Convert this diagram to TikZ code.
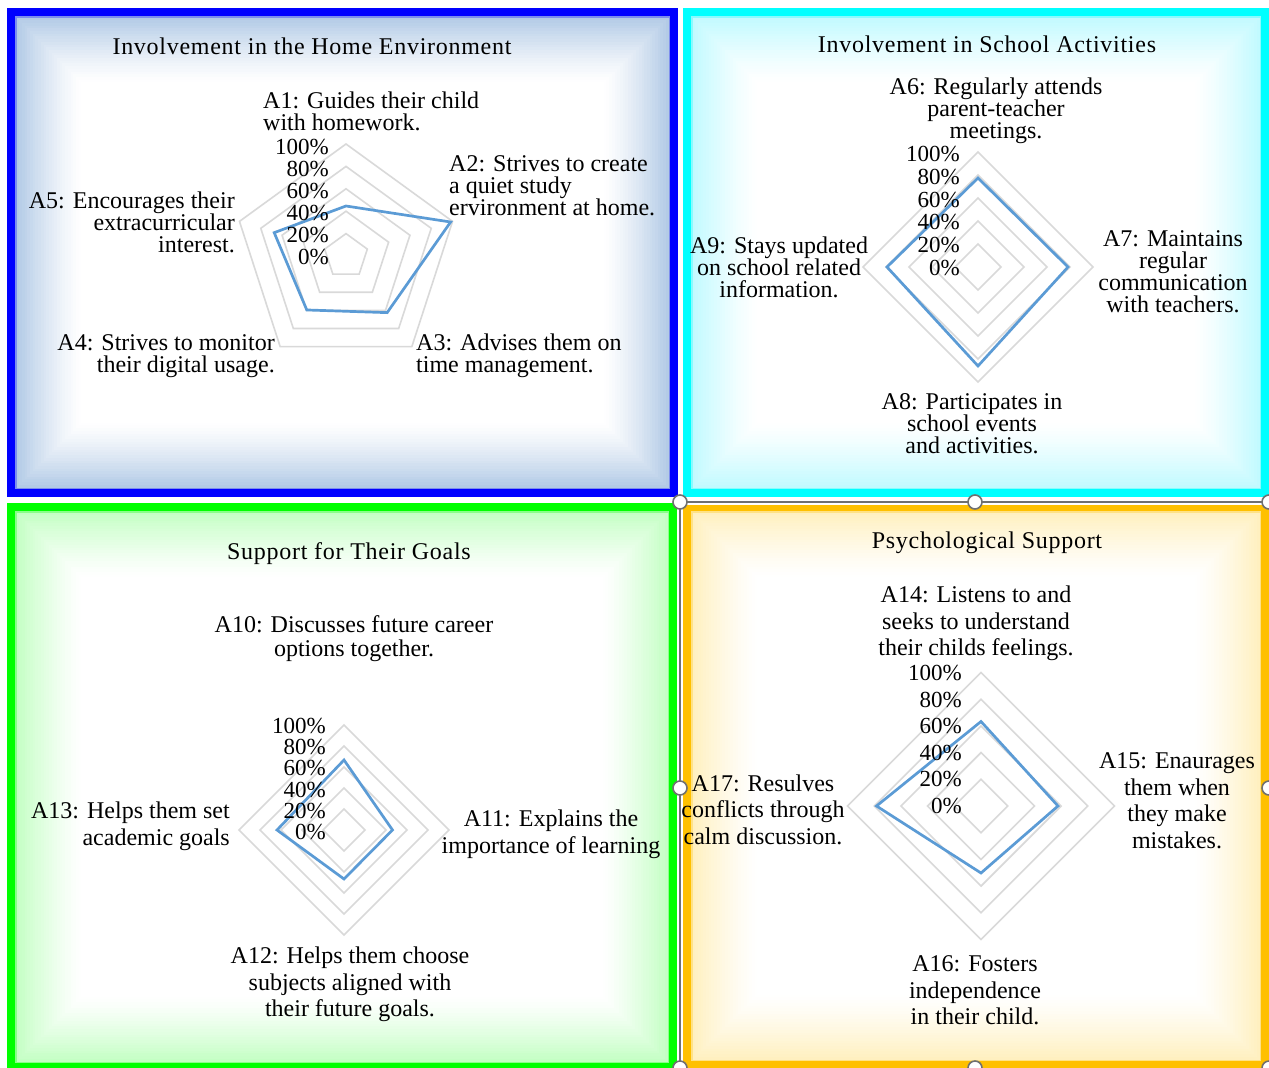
\documentclass[tikz,border=0pt]{standalone}
\usepackage{fontspec}
\setmainfont{Liberation Serif}
\newfontfamily\titlefont[LetterSpace=3]{Liberation Serif}
\definecolor{dataBlue}{HTML}{5B9BD5}
\definecolor{ringGray}{HTML}{D9D9D9}
\definecolor{tlBorder}{HTML}{0000FF}
\definecolor{tlTint}{HTML}{B3CBE6}
\definecolor{trBorder}{HTML}{00FFFF}
\definecolor{trTint}{HTML}{C2FAFF}
\definecolor{blBorder}{HTML}{00FF00}
\definecolor{blTint}{HTML}{C4FFC4}
\definecolor{brBorder}{HTML}{FFC000}
\definecolor{brTint}{HTML}{FFF0C0}
\definecolor{selGray}{HTML}{707070}
\newcommand\bevelpanel[6]{%
  \fill[#5] (#1,#2) rectangle (#3,#4);
  \fill[#5!30!#6] ({#1+8},{#2+8}) rectangle ({#3-8},{#4-8});
  \foreach \i in {0,...,24}{%
    \pgfmathtruncatemacro\tnt{100*(1-\i/24)^1.3}%
    \fill[#6!\tnt!white] ({#1+9.5+2.7*\i},{#2+9.5+2.7*\i}) rectangle ({#3-9.5-2.7*\i},{#4-9.5-2.7*\i});
  }%
}
\tikzset{
  ring/.style={draw=ringGray, line width=1.6pt},
  dataline/.style={draw=dataBlue, line width=2.7pt, line join=miter},
  lbl/.style={font=\fontsize{24}{22}\selectfont, align=center, inner sep=0pt},
  lblb/.style={font=\fontsize{24}{26.5}\selectfont, align=center, inner sep=0pt},
  pct/.style={font=\fontsize{23}{23}\selectfont, inner sep=0pt, anchor=east},
  ttl/.style={font=\fontsize{24}{24}\titlefont, inner sep=0pt},
  selhandle/.style={circle, draw=selGray, fill=white, line width=1.6pt, minimum size=14pt, inner sep=0pt},
}
\begin{document}
\lineskiplimit=-20pt\relax
\begin{tikzpicture}[x=1pt,y=-1pt]
\useasboundingbox (0,0) rectangle (1269,1068);
\fill[white] (0,0) rectangle (1269,1068);
% panels
\bevelpanel{7}{8}{678}{497}{tlBorder}{tlTint}
\bevelpanel{683}{8}{1269}{497}{trBorder}{trTint}
\bevelpanel{7}{503}{677}{1071}{blBorder}{blTint}
\bevelpanel{683}{503}{1269}{1069}{brBorder}{brTint}
% selection frame
\draw[white, line width=5pt] (680,502) -- (1269,502) (680,502) -- (680,1068);
\draw[selGray, line width=1.8pt] (680,502) -- (1269,502) (680,502) -- (680,1068);

% ---------- Chart 1 ----------
\node[ttl] (t1) at (312,46) {Involvement in the Home Environment};
\begin{scope}[shift={(346,256)}, yscale=-1]
  \foreach \k in {1,...,5}
    \draw[ring] (90:{\k*22.4}) -- (18:{\k*22.4}) -- (-54:{\k*22.4}) -- (-126:{\k*22.4}) -- (162:{\k*22.4}) -- cycle;
  \draw[dataline] (90:50) -- (18:110) -- (-54:70) -- (-126:66.7) -- (162:75.5) -- cycle;
\end{scope}
\foreach \k/\t in {0/0,1/20,2/40,3/60,4/80,5/100}
  \node[pct] (p1\k) at (329,{257-22*\k}) {\t\%};
\node[lbl, anchor=west, align=left] (a1) at (263,111) {A1: Guides their child\\with homework.};
\node[lbl, anchor=west, align=left] (a2) at (449,186) {A2: Strives to create\\a quiet study\\ervironment at home.};
\node[lbl, anchor=west, align=left] (a3) at (416,356) {A3: Advises them on\\time management.};
\node[lbl, anchor=east, align=right] (a4) at (275,356) {A4: Strives to monitor\\their digital usage.};
\node[lbl, anchor=east, align=right] (a5) at (235,222) {A5: Encourages their\\extracurricular\\interest.};

% ---------- Chart 2 ----------
\node[ttl] (t2) at (987,44) {Involvement in School Activities};
\begin{scope}[shift={(978,267)}, yscale=-1]
  \foreach \k in {1,...,5}
    \draw[ring] (90:{\k*23}) -- (0:{\k*23}) -- (-90:{\k*23}) -- (180:{\k*23}) -- cycle;
  \draw[dataline] (90:89) -- (0:90) -- (-90:99) -- (180:91) -- cycle;
\end{scope}
\foreach \k/\t in {0/0,1/20,2/40,3/60,4/80,5/100}
  \node[pct] (p2\k) at (960,{268-22.8*\k}) {\t\%};
\node[lbl] (a6) at (996,111) {A6: Regularly attends\\parent-teacher\\meetings.};
\node[lbl] (a7) at (1173,272) {A7: Maintains\\regular\\communication\\with teachers.};
\node[lbl] (a8) at (972,424) {A8: Participates in\\school events\\and activities.};
\node[lbl] (a9) at (779,267) {A9: Stays updated\\on school related\\information.};

% ---------- Chart 3 ----------
\node[ttl] (t3) at (349,554) {Support for Their Goals};
\begin{scope}[shift={(344,830)}, yscale=-1]
  \foreach \k in {1,...,5}
    \draw[ring] (90:{\k*21}) -- (0:{\k*21}) -- (-90:{\k*21}) -- (180:{\k*21}) -- cycle;
  \draw[dataline] (90:70) -- (0:48.5) -- (-90:49) -- (180:67) -- cycle;
\end{scope}
\foreach \k/\t in {0/0,1/20,2/40,3/60,4/80,5/100}
  \node[pct] (p3\k) at (326,{832-21.2*\k}) {\t\%};
\node[lbl, font=\fontsize{24}{24}\selectfont] (a10) at (354,639) {A10: Discusses future career\\options together.};
\node[lblb, font=\fontsize{24}{27}\selectfont] (a11) at (551,834.5) {A11: Explains the\\importance of learning};
\node[lblb] (a12) at (350,984.5) {A12: Helps them choose\\subjects aligned with\\their future goals.};
\node[lblb, font=\fontsize{24}{27}\selectfont, anchor=east, align=right] (a13) at (230,826.5) {A13: Helps them set\\academic goals};

% ---------- Chart 4 ----------
\node[ttl] (t4) at (987,543) {Psychological Support};
\begin{scope}[shift={(981,806)}, yscale=-1]
  \foreach \k in {1,...,5}
    \draw[ring] (90:{\k*26.7}) -- (0:{\k*26.7}) -- (-90:{\k*26.7}) -- (180:{\k*26.7}) -- cycle;
  \draw[dataline] (90:84.5) -- (0:77) -- (-90:67) -- (180:104.5) -- cycle;
\end{scope}
\foreach \k/\t in {0/0,1/20,2/40,3/60,4/80,5/100}
  \node[pct] (p4\k) at (962,{806-26.6*\k}) {\t\%};
\node[lblb] (a14) at (976,623.5) {A14: Listens to and\\seeks to understand\\their childs feelings.};
\node[lblb] (a15) at (1177,800.5) {A15: Enaurages\\them when\\they make\\mistakes.};
\node[lblb] (a16) at (975,990.5) {A16: Fosters\\independence\\in their child.};
\node[lblb] (a17) at (763,809.5) {A17: Resulves\\conflicts through\\calm discussion.};

% selection handles
\node[selhandle] (h1) at (680,502) {};
\node[selhandle] (h2) at (975,502) {};
\node[selhandle] (h3) at (1269,502) {};
\node[selhandle] (h4) at (680,788) {};
\node[selhandle] (h5) at (1269,788) {};
\node[selhandle] (h6) at (680,1068) {};
\node[selhandle] (h7) at (975,1068) {};
\node[selhandle] (h8) at (1269,1068) {};
\end{tikzpicture}
\end{document}
